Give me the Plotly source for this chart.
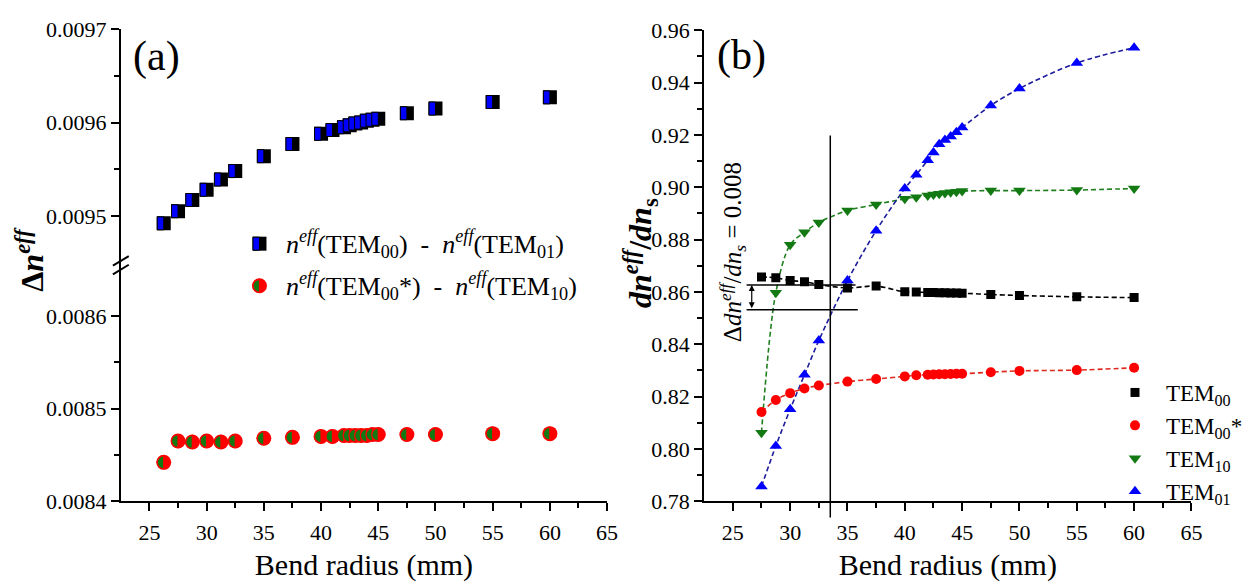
import plotly.graph_objects as go

W, H = 1248, 586
FONT = "Liberation Serif"

# ---------------- data ----------------
radius_a = [26.25, 27.5, 28.75, 30, 31.25, 32.5, 35, 37.5, 40, 41, 42, 42.5, 43, 43.5, 44, 44.5, 45, 47.5, 50, 55, 60]
dn_00_01 = [0.009492, 0.009505, 0.009517, 0.009528, 0.009539, 0.009548, 0.009564, 0.009577, 0.009588, 0.009592,
            0.009595, 0.009597, 0.009599, 0.009600, 0.009602, 0.009603, 0.009604, 0.009610, 0.009615, 0.009622, 0.009627]
dn_00s_10 = [0.008442, 0.008465, 0.008464, 0.008465, 0.008464, 0.008465, 0.008468, 0.008469, 0.008470, 0.008470,
             0.008471, 0.008471, 0.008471, 0.008471, 0.008471, 0.008472, 0.008472, 0.008472, 0.008472, 0.008473, 0.008473]

radius_b = [27.5, 28.75, 30, 31.25, 32.5, 35, 37.5, 40, 41, 42, 42.5, 43, 43.5, 44, 44.5, 45, 47.5, 50, 55, 60]
tem00 = [0.8657, 0.8654, 0.8643, 0.8639, 0.8628, 0.8615, 0.8622, 0.8600, 0.8599, 0.8598, 0.8598, 0.8597, 0.8597,
         0.8596, 0.8596, 0.8595, 0.8590, 0.8586, 0.8581, 0.8578]
tem00s = [0.8141, 0.8187, 0.8213, 0.8231, 0.8242, 0.8257, 0.8267, 0.8277, 0.8281, 0.8283, 0.8284, 0.8285, 0.8285,
          0.8286, 0.8287, 0.8287, 0.8293, 0.8298, 0.8301, 0.8310]
tem10 = [0.8062, 0.8597, 0.8780, 0.8828, 0.8865, 0.8911, 0.8934, 0.8956, 0.8962, 0.8968, 0.8972, 0.8975, 0.8978,
         0.8981, 0.8983, 0.8985, 0.8987, 0.8987, 0.8989, 0.8995]
tem01 = [0.7856, 0.8011, 0.8151, 0.8283, 0.8414, 0.8643, 0.8834, 0.8995, 0.9048, 0.9103, 0.9133, 0.9164, 0.9180,
         0.9194, 0.9210, 0.9228, 0.9312, 0.9377, 0.9475, 0.9533]

x_ticks = [25, 30, 35, 40, 45, 50, 55, 60, 65]
x_minor = [27.5, 32.5, 37.5, 42.5, 47.5, 52.5, 57.5, 62.5]
ya_low_ticks = [0.0084, 0.0085, 0.0086]
ya_low_minor = [0.00845, 0.00855]
ya_up_ticks = [0.0095, 0.0096, 0.0097]
ya_up_minor = [0.00955, 0.00965]
yb_ticks = [0.78, 0.80, 0.82, 0.84, 0.86, 0.88, 0.90, 0.92, 0.94, 0.96]
yb_minor = [0.79, 0.81, 0.83, 0.85, 0.87, 0.89, 0.91, 0.93, 0.95]

x_title = "Bend radius (mm)"
legend_b_names = ["TEM<sub>00</sub>", "TEM<sub>00</sub>*", "TEM<sub>10</sub>", "TEM<sub>01</sub>"]
legend_a_names = ["<i>n</i><sup><i>eff</i></sup>(TEM<sub>00</sub>)\u00a0\u00a0-\u00a0\u00a0<i>n</i><sup><i>eff</i></sup>(TEM<sub>01</sub>)",
                  "<i>n</i><sup><i>eff</i></sup>(TEM<sub>00</sub>*)\u00a0\u00a0-\u00a0\u00a0<i>n</i><sup><i>eff</i></sup>(TEM<sub>10</sub>)"]

# colours
BLUE = "#0000ff"
RED = "#ff0000"
GREEN = "#137a13"
BLUE_LINE = "#1c1c9c"
RED_LINE = "#e0281e"
GREEN_LINE = "#1f7f1f"


def px2x(p):
    return p / W


def px2y(p):
    return 1 - p / H


fig = go.Figure()

# ---------------- panel (a) ----------------
fig.add_trace(go.Scatter(x=radius_a, y=dn_00_01, xaxis="x", yaxis="y2", mode="markers",
                         marker=dict(symbol="square", size=14, color="black"), showlegend=False))
fig.add_trace(go.Scatter(x=radius_a, y=dn_00s_10, xaxis="x", yaxis="y", mode="markers",
                         marker=dict(symbol="circle", size=15, color=RED), showlegend=False))

shapes = []
k = 0.5523
r = 6.5
half_circle = (f"M0,{r} C{-k*r:.2f},{r} {-r},{k*r:.2f} {-r},0 "
               f"C{-r},{-k*r:.2f} {-k*r:.2f},{-r} 0,{-r} Z")

# left halves of the two-colour markers, anchored at the data values
for xv, yv in zip(radius_a, dn_00_01):
    shapes.append(dict(type="rect", xref="x", yref="y2", xsizemode="pixel", ysizemode="pixel",
                       xanchor=xv, yanchor=yv, x0=-6.5, x1=0, y0=-6.5, y1=6.5,
                       fillcolor=BLUE, line=dict(color="black", width=1)))
for xv, yv in zip(radius_a, dn_00s_10):
    shapes.append(dict(type="path", xref="x", yref="y", xsizemode="pixel", ysizemode="pixel",
                       xanchor=xv, yanchor=yv, path=half_circle,
                       fillcolor=GREEN, line=dict(color=RED, width=1.2)))

# legend keys for panel (a)
kx = px2x(262)
for ky, kind in [(px2y(242), "sq"), (px2y(286), "ci")]:
    if kind == "sq":
        shapes.append(dict(type="rect", xref="paper", yref="paper", xsizemode="pixel", ysizemode="pixel",
                           xanchor=kx, yanchor=ky, x0=-7, x1=7, y0=-7, y1=7,
                           fillcolor="black", line=dict(width=0)))
        shapes.append(dict(type="rect", xref="paper", yref="paper", xsizemode="pixel", ysizemode="pixel",
                           xanchor=kx, yanchor=ky, x0=-6.5, x1=0, y0=-6.5, y1=6.5,
                           fillcolor=BLUE, line=dict(color="black", width=1)))
    else:
        shapes.append(dict(type="circle", xref="paper", yref="paper", xsizemode="pixel", ysizemode="pixel",
                           xanchor=kx, yanchor=ky, x0=-7.5, x1=7.5, y0=-7.5, y1=7.5,
                           fillcolor=RED, line=dict(width=0)))
        shapes.append(dict(type="path", xref="paper", yref="paper", xsizemode="pixel", ysizemode="pixel",
                           xanchor=kx, yanchor=ky, path=half_circle,
                           fillcolor=GREEN, line=dict(color=RED, width=1.2)))

# axis break marks
for y0p, y1p in [(265, 255), (274, 264)]:
    shapes.append(dict(type="line", xref="paper", yref="paper",
                       x0=px2x(114), x1=px2x(130), y0=px2y(y0p), y1=px2y(y1p),
                       line=dict(color="black", width=2)))

# ---------------- panel (b) ----------------
series_b = [(tem00, "black", "black", "square", 9),
            (tem00s, RED, RED_LINE, "circle", 10),
            (tem10, GREEN, GREEN_LINE, "triangle-down", 11),
            (tem01, BLUE, BLUE_LINE, "triangle-up", 11)]

for vals, mc, lc, sym, sz in series_b:
    fig.add_trace(go.Scatter(x=radius_b, y=vals, xaxis="x2", yaxis="y3", mode="lines",
                             line=dict(color=lc, width=1.6, dash="5px,3px", shape="spline", smoothing=0.9),
                             showlegend=False, hoverinfo="skip"))
for (vals, mc, lc, sym, sz), name in zip(series_b, legend_b_names):
    fig.add_trace(go.Scatter(x=radius_b, y=vals, xaxis="x2", yaxis="y3", mode="markers",
                             marker=dict(symbol=sym, size=sz, color=mc), name=name, showlegend=True))

# annotation lines in (b)
shapes.append(dict(type="line", xref="x2", yref="paper", x0=33.5, x1=33.5,
                   y0=px2y(528), y1=px2y(129), line=dict(color="black", width=1.5)))
shapes.append(dict(type="line", xref="x2", yref="y3", x0=26.2, x1=35.7, y0=0.8626, y1=0.8626,
                   line=dict(color="black", width=1.5)))
shapes.append(dict(type="line", xref="x2", yref="y3", x0=26.2, x1=35.9, y0=0.8532, y1=0.8532,
                   line=dict(color="black", width=1.5)))

# ---------------- axes ----------------
tickfont = dict(family=FONT, size=22, color="black")
base = dict(showline=True, linecolor="black", linewidth=2, ticks="outside", ticklen=8, tickwidth=2,
            tickcolor="black", showgrid=False, zeroline=False, tickfont=tickfont, fixedrange=True)
xtitle = dict(text=x_title, font=dict(family=FONT, size=30, color="black"), standoff=10)


def minor(vals):
    return dict(tickmode="array", tickvals=vals, ticks="outside", ticklen=5, tickwidth=2, tickcolor="black",
                showgrid=False)


fig.update_layout(
    xaxis=dict(base, domain=[px2x(122), px2x(613)], range=[22.5, 65], anchor="y",
               tickmode="array", tickvals=x_ticks, minor=minor(x_minor), ticklabelstandoff=2,
               title=xtitle, automargin=False),
    yaxis=dict(base, domain=[px2y(511), px2y(266)], range=[0.0084, 0.0086534], anchor="x",
               tickmode="array", tickvals=ya_low_ticks, tickformat=".4f", minor=minor(ya_low_minor)),
    yaxis2=dict(base, domain=[px2y(266), px2y(18)], range=[0.0094456, 0.0097], anchor="x",
                tickmode="array", tickvals=ya_up_ticks, tickformat=".4f", minor=minor(ya_up_minor)),
    xaxis2=dict(base, domain=[px2x(711), px2x(1203)], range=[22.5, 65], anchor="y3",
                tickmode="array", tickvals=x_ticks, minor=minor(x_minor), ticklabelstandoff=2,
                title=xtitle, automargin=False),
    yaxis3=dict(base, domain=[px2y(511), px2y(19)], range=[0.78, 0.96], anchor="x2",
                tickmode="array", tickvals=yb_ticks, tickformat=".2f", minor=minor(yb_minor)),
)

annotations = [
    dict(text="(a)", x=px2x(158), y=px2y(46), font=dict(family=FONT, size=42)),
    dict(text="(b)", x=px2x(749), y=px2y(45), font=dict(family=FONT, size=42)),
    dict(text="<b>\u0394<i>n</i><sup><i>eff</i></sup></b>", x=px2x(30), y=px2y(258), textangle=-90,
         font=dict(family=FONT, size=32)),
    dict(text="<b><i>dn</i><sup><i>eff</i></sup>/<i>dn</i><sub>s</sub></b>", x=px2x(646), y=px2y(252),
         textangle=-90, font=dict(family=FONT, size=32)),
    dict(text="\u0394<i>dn</i><sup><i>eff</i></sup>/<i>dn</i><sub><i>s</i></sub> = 0.008", x=px2x(740),
         y=px2y(251), textangle=-90, font=dict(family=FONT, size=25)),
    dict(text=legend_a_names[0], x=px2x(287), y=px2y(242), xanchor="left", font=dict(family=FONT, size=26)),
    dict(text=legend_a_names[1], x=px2x(287), y=px2y(286), xanchor="left", font=dict(family=FONT, size=26)),
]
for a in annotations:
    a.setdefault("xref", "paper")
    a.setdefault("yref", "paper")
    a.setdefault("xanchor", "center")
    a.setdefault("yanchor", "middle")
    a["showarrow"] = False
    a["font"]["color"] = "black"

annotations.append(dict(x=26.65, y=0.8626, ax=26.65, ay=0.8532, xref="x2", yref="y3", axref="x2", ayref="y3",
                        text="", showarrow=True, arrowside="end+start", arrowhead=2, arrowsize=1,
                        arrowwidth=1.2, arrowcolor="black", standoff=0, startstandoff=0))

fig.update_layout(
    width=W, height=H, autosize=False,
    margin=dict(l=0, r=0, t=0, b=0, pad=0),
    paper_bgcolor="white", plot_bgcolor="white",
    shapes=shapes, annotations=annotations,
    legend=dict(x=px2x(1115), y=px2y(375), xanchor="left", yanchor="top",
                font=dict(family=FONT, size=23, color="black"), bgcolor="rgba(0,0,0,0)",
                itemwidth=52, tracegroupgap=0),
    font=dict(family=FONT, color="black"),
)

fig.write_html("out.html")
